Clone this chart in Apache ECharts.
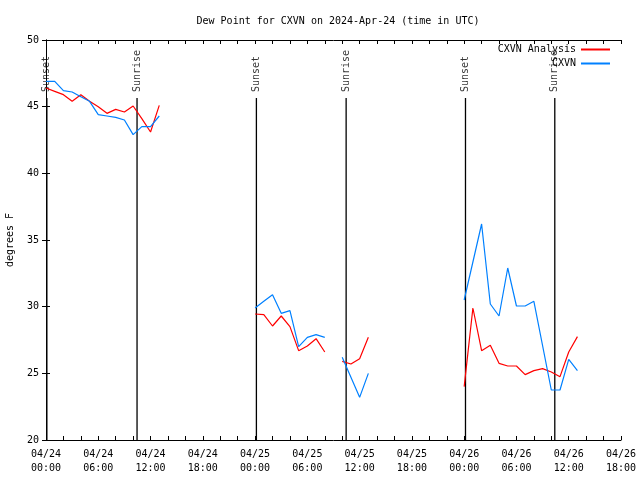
<!DOCTYPE html>
<html>
<head>
<meta charset="utf-8">
<script src="https://cdn.jsdelivr.net/npm/echarts@6/dist/echarts.min.js"></script>
<style>html,body{margin:0;padding:0;background:#fff}#c{width:640px;height:480px}</style>
</head>
<body>
<div id="c"></div>
<script>
// Hours since 2024-04-24 00:00 UTC
const xTickLabels = ['04/24\n00:00','04/24\n06:00','04/24\n12:00','04/24\n18:00','04/25\n00:00','04/25\n06:00','04/25\n12:00','04/25\n18:00','04/26\n00:00','04/26\n06:00','04/26\n12:00','04/26\n18:00'];

const seg1Hours = [0,1,2,3,4,5,6,7,8,9,10,11,12,13];
const seg1Analysis = [46.4,46.15,45.9,45.4,45.9,45.4,45.0,44.5,44.8,44.6,45.05,44.1,43.1,45.1];
const seg1Obs = [46.9,46.9,46.2,46.1,45.75,45.4,44.4,44.3,44.2,44.0,42.9,43.5,43.5,44.3];

const seg2Hours = [24,25,26,27,28,29,30,31,32];
const seg2Analysis = [29.45,29.4,28.55,29.3,28.5,26.7,27.05,27.6,26.6];
const seg2Obs = [29.9,30.4,30.9,29.5,29.7,27.0,27.7,27.9,27.7];

const seg3Hours = [34,35,36,37];
const seg3Analysis = [25.9,25.7,26.1,27.7];
const seg3Obs = [26.2,24.7,23.2,25.0];

const seg4Hours = [48,49,50,51,52,53,54,55,56,57,58,59,60,61];
const seg4Analysis = [24.0,29.9,26.7,27.1,25.75,25.55,25.55,24.9,25.2,25.35,25.1,24.75,26.6,27.75];
const seg4Obs = [30.5,null,36.2,30.2,29.3,32.9,30.05,30.05,30.4,null,23.75,23.75,26.05,25.2];

const sunsetHours = [0.1,24.15,48.15];
const sunriseHours = [10.45,34.45,58.4];
const sunLineTop = 45.65;

const FONT = 'DejaVu Sans Mono';
const RED = '#ff0000', BLUE = '#0080ff';

function pairs(h, v){ return h.map((x,i)=>[x, v[i]]); }
const segs = [
  [seg1Hours, seg1Analysis, seg1Obs],
  [seg2Hours, seg2Analysis, seg2Obs],
  [seg3Hours, seg3Analysis, seg3Obs],
  [seg4Hours, seg4Analysis, seg4Obs]
];
const series = [];
segs.forEach(s=>{
  series.push({name:'CXVN Analysis', type:'line', data:pairs(s[0], s[1]), showSymbol:false, connectNulls:true,
    lineStyle:{color:RED, width:1.2}, itemStyle:{color:RED}, silent:true, animation:false, z:3});
});
segs.forEach(s=>{
  series.push({name:'CXVN', type:'line', data:pairs(s[0], s[2]), showSymbol:false, connectNulls:true,
    lineStyle:{color:BLUE, width:1.2}, itemStyle:{color:BLUE}, silent:true, animation:false, z:3});
});
function sunSeries(hours, name){
  hours.forEach(h=>{
    series.push({name:'_'+name, type:'line', data:[[h,20],[h,sunLineTop]], showSymbol:false,
      lineStyle:{color:'#000', width:1.3}, silent:true, animation:false, z:2});
  });
  series.push({name:'_'+name+'lbl', type:'scatter', data:hours.map(h=>[h,sunLineTop]), symbolSize:0,
    silent:true, animation:false,
    label:{show:true, formatter:name, position:'top', distance:6, rotate:90, align:'left', verticalAlign:'middle',
      fontFamily:FONT, fontSize:10, color:'#000'}});
}
sunSeries(sunsetHours, 'Sunset');
sunSeries(sunriseHours, 'Sunrise');

const axisCommon = {
  axisLine:{show:true, lineStyle:{color:'#000', width:1}},
  splitLine:{show:false}
};
const chart = echarts.init(document.getElementById('c'), null, {renderer:'canvas'});
chart.setOption({
  backgroundColor:'#fff',
  animation:false,
  title:{text:'Dew Point for CXVN on 2024-Apr-24 (time in UTC)', left:333, top:11, textAlign:'center',
    textStyle:{fontFamily:FONT, fontSize:10, fontWeight:'normal', color:'#000'}},
  legend:{data:[{name:'CXVN Analysis', itemStyle:{color:RED}}, {name:'CXVN', itemStyle:{color:BLUE}}],
    orient:'vertical', right:30, top:44, align:'right',
    icon:'rect', itemWidth:29, itemHeight:2, itemGap:3, padding:0,
    textStyle:{fontFamily:FONT, fontSize:10, color:'#000', lineHeight:11}, selectedMode:false},
  grid:{left:46, right:19, top:40, bottom:40, containLabel:false, outerBoundsMode:'none'},
  xAxis:[
    Object.assign({type:'value', min:0, max:66, interval:6, position:'bottom',
      axisTick:{show:true, inside:true, length:4, lineStyle:{color:'#000'}},
      minorTick:{show:true, splitNumber:3, length:4, lineStyle:{color:'#000'}},
      axisLabel:{fontFamily:FONT, fontSize:10, color:'#000', margin:7, lineHeight:14,
        formatter:(v)=>xTickLabels[Math.round(v/6)]}}, axisCommon),
    Object.assign({type:'value', min:0, max:66, interval:6, position:'top',
      axisTick:{show:true, inside:true, length:4, lineStyle:{color:'#000'}},
      minorTick:{show:true, splitNumber:3, length:4, lineStyle:{color:'#000'}},
      axisLabel:{show:false}}, axisCommon)
  ],
  yAxis:[
    Object.assign({type:'value', min:20, max:50, interval:5, position:'left',
      name:'degrees F', nameLocation:'middle', nameGap:31,
      nameTextStyle:{fontFamily:FONT, fontSize:10, color:'#000'},
      axisTick:{show:true, inside:true, length:4, lineStyle:{color:'#000'}},
      axisLabel:{fontFamily:FONT, fontSize:10, color:'#000', margin:7}}, axisCommon),
    Object.assign({type:'value', min:20, max:50, interval:5, position:'right',
      axisTick:{show:true, inside:true, length:4, lineStyle:{color:'#000'}},
      axisLabel:{show:false}}, axisCommon)
  ],
  series: series
});
</script>
</body>
</html>
